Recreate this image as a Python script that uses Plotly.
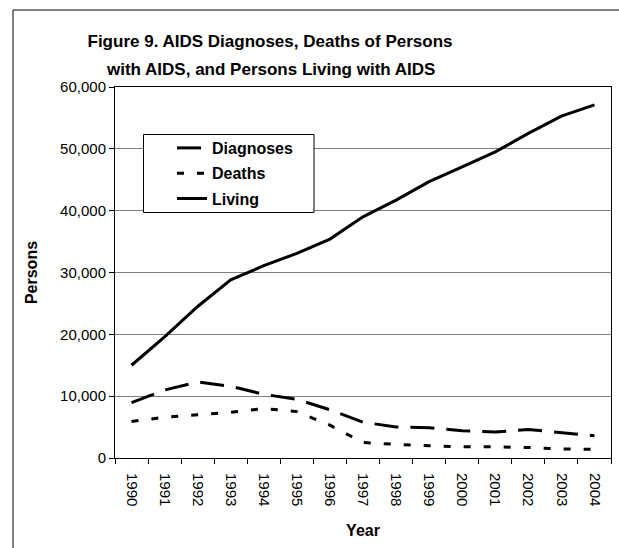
import plotly.graph_objects as go

years = ["1990", "1991", "1992", "1993", "1994", "1995", "1996", "1997",
         "1998", "1999", "2000", "2001", "2002", "2003", "2004"]
diagnoses = [8950, 11000, 12300, 11600, 10300, 9500, 7800, 5800,
             5000, 4900, 4400, 4200, 4600, 4100, 3600]
deaths = [5900, 6600, 7000, 7400, 8000, 7500, 5300, 2500,
          2200, 2000, 1800, 1800, 1700, 1450, 1400]
living = [15000, 19600, 24500, 28800, 31100, 33100, 35400, 39000,
          41700, 44700, 47100, 49500, 52500, 55300, 57100]

FONT = "Liberation Sans, Arial, sans-serif"
W, H = 619, 548


def px(xr):  # reference-pixel x -> paper x
    return (xr - 115) / 496


def py(yr):  # reference-pixel y -> paper y
    return (458 - yr) / 371


fig = go.Figure()
fig.add_trace(go.Scatter(x=years, y=diagnoses, name="Diagnoses", mode="lines",
                         legendgroup="a",
                         line=dict(color="black", width=3, dash="24px,12px")))
fig.add_trace(go.Scatter(x=years, y=deaths, name="Deaths", mode="lines",
                         legendgroup="b",
                         line=dict(color="black", width=3, dash="7px,13px")))
fig.add_trace(go.Scatter(x=years, y=living, name="Living", mode="lines",
                         legendgroup="c",
                         line=dict(color="black", width=3)))

fig.update_layout(
    width=W, height=H,
    margin=dict(l=115, r=W - 611, t=87, b=H - 458),
    paper_bgcolor="white", plot_bgcolor="white",
    font=dict(family=FONT, color="black", size=15),
    title=dict(
        text="Figure 9. AIDS Diagnoses, Deaths of Persons",
        x=270 / W, xanchor="center", xref="container",
        y=1 - 41 / H, yanchor="middle", yref="container",
        font=dict(family=FONT, size=17, weight="bold", color="black"),
    ),
    showlegend=True,
    legend=dict(
        x=px(172), y=py(131), xanchor="left", yanchor="top",
        bgcolor="rgba(0,0,0,0)", borderwidth=0,
        font=dict(family=FONT, size=16, weight="bold", color="black"),
        tracegroupgap=1.5, traceorder="grouped",
    ),
    xaxis=dict(
        type="category", range=[-0.5, 14.5], tickson="boundaries",
        ticks="outside", ticklen=5,
        tickcolor="black", showline=True, linecolor="black", linewidth=1,
        mirror=True, tickangle=90, showgrid=False, automargin=False,
        ticklabelstandoff=11,
        tickfont=dict(family=FONT, size=15, color="black"),
        title=dict(text="Year", standoff=19,
                   font=dict(family=FONT, size=16, weight="bold", color="black")),
    ),
    yaxis=dict(
        range=[0, 60000], dtick=10000, tickformat=",", ticks="outside",
        ticklen=5, tickcolor="black", showline=True, linecolor="black",
        linewidth=1, mirror=True, showgrid=True, gridcolor="#808080",
        gridwidth=1, zeroline=False, automargin=False,
        tickfont=dict(family=FONT, size=15, color="black"),
        title=dict(text="Persons", standoff=18,
                   font=dict(family=FONT, size=16, weight="bold", color="black")),
    ),
)

# second title line
fig.add_annotation(text="with AIDS, and Persons Living with AIDS",
                   xref="paper", yref="paper", x=px(270), y=py(69),
                   xanchor="center", yanchor="middle", showarrow=False,
                   font=dict(family=FONT, size=17, weight="bold", color="black"))

# outer chart frame: only its left and top edges fall inside the picture
fig.add_shape(type="line", xref="paper", yref="paper",
              x0=px(13), x1=px(13), y0=py(640), y1=py(10),
              line=dict(color="black", width=1), layer="below")
fig.add_shape(type="line", xref="paper", yref="paper",
              x0=px(13), x1=px(680), y0=py(10), y1=py(10),
              line=dict(color="black", width=1), layer="below")

# legend box
fig.add_shape(type="rect", xref="paper", yref="paper",
              x0=px(143.5), x1=px(314), y0=py(212.5), y1=py(134.5),
              line=dict(color="black", width=1), fillcolor="white",
              layer="above")

fig.write_html("out.html",
               config={"displayModeBar": False, "staticPlot": True},
               post_script="document.body.style.margin='0';"
                           "document.body.style.overflow='hidden';")
